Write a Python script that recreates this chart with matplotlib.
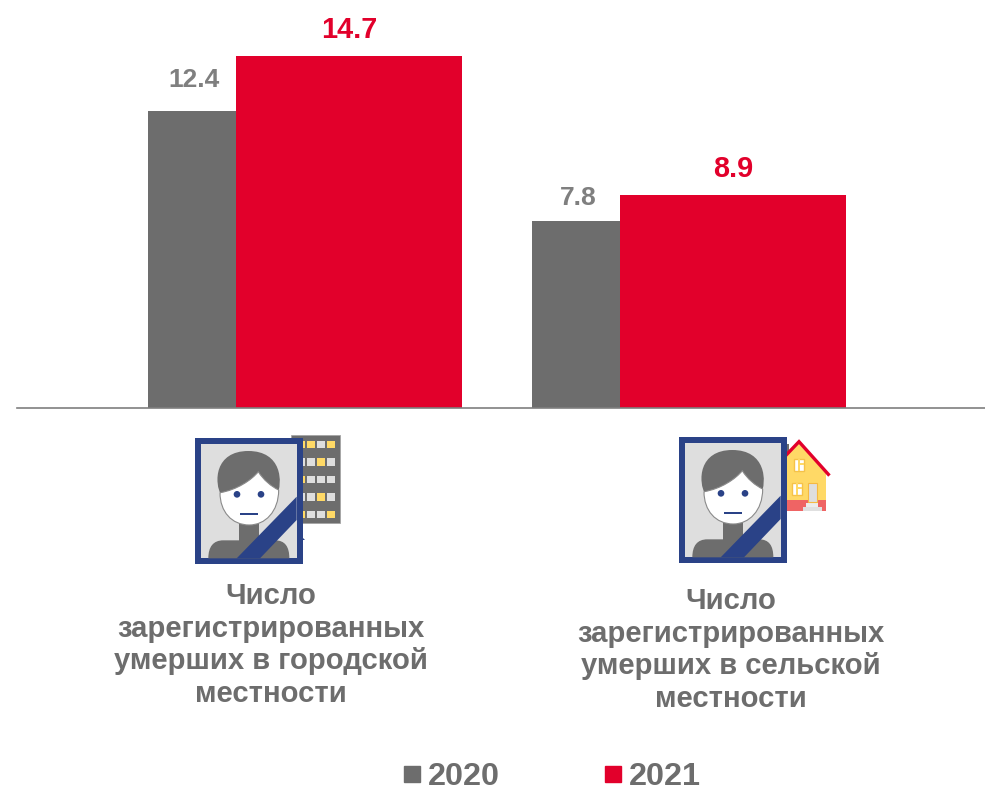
# Deaths in urban / rural areas, 2020 vs 2021
import matplotlib
matplotlib.use('Agg')
import matplotlib.pyplot as plt
from matplotlib.lines import Line2D
from matplotlib.patches import Circle, PathPatch, Polygon, Rectangle
from matplotlib.path import Path

plt.rcParams['font.family'] = ['Liberation Sans', 'DejaVu Sans']

categories = ['Число\nзарегистрированных\nумерших в городской\nместности',
              'Число\nзарегистрированных\nумерших в сельской\nместности']
years = ['2020', '2021']
values_2020 = [12.4, 7.8]
values_2021 = [14.7, 8.9]

GREY = '#6d6d6d'
RED = '#e2002b'
BLUE = '#2a4287'
YEL = '#ffd966'
LGREY = '#dedede'

W, H = 985, 787
BASE = 408

fig = plt.figure(figsize=(W / 100, H / 100), dpi=100)

# bars: x axis in pixels, y axis in data units
ax = fig.add_axes([0, 1 - BASE / H, 1, BASE / H])
ax.set_xlim(0, W)
ax.set_ylim(0, BASE / 23.95)
ax.patch.set_alpha(0)
left_2020 = [148, 532]
left_2021 = [236, 620]
ax.bar(left_2020, values_2020, width=88, align='edge', color=GREY, label=years[0])
ax.bar(left_2021, values_2021, width=226, align='edge', color=RED, label=years[1])
for x, v, dy in zip(left_2020, values_2020, [19, 11]):
    ax.annotate(f'{v}', (x + 46, v), xytext=(0, dy), textcoords='offset pixels', ha='center', va='bottom',
                color='#7f7f7f', fontsize=19, fontweight='bold')
for x, v, dy in zip(left_2021, values_2021, [12, 12]):
    ax.annotate(f'{v}', (x + 113, v), xytext=(0, dy), textcoords='offset pixels', ha='center', va='bottom',
                color=RED, fontsize=20.8, fontweight='bold')
ax.set_xticks([])
ax.set_yticks([])
for s in ['top', 'left', 'right']:
    ax.spines[s].set_visible(False)
ax.spines['bottom'].set_bounds(17, W)
ax.spines['bottom'].set_color('#7f7f7f')
ax.spines['bottom'].set_linewidth(1.2)

# everything below the baseline is placed in pixel coordinates
ov = fig.add_axes([0, 0, 1, 1], zorder=3)
ov.set_xlim(0, W)
ov.set_ylim(H, 0)
ov.axis('off')


def curve(P, pts, **kw):
    # first point is a moveto, then triples of cubic bezier points
    verts = [P(*p) for p in pts]
    codes = [Path.MOVETO] + [Path.CURVE4] * (len(verts) - 1)
    return PathPatch(Path(verts, codes), **kw)


def portrait(ox, oy):
    # coordinates taken from a 3x crop, hence the /3
    P = lambda x, y: (ox + x / 3, oy + y / 3)
    L = lambda x: x / 3
    ov.add_patch(Rectangle(P(45, 38), L(323), L(380), fc=BLUE, ec='none', zorder=5))
    ov.add_patch(Rectangle(P(64, 56), L(286), L(344), fc=LGREY, ec='none', zorder=6))
    # shoulders and neck
    ov.add_patch(curve(P, [(85, 400), (85, 365), (100, 346), (130, 346), (180, 346), (240, 346), (285, 346),
                           (315, 346), (328, 365), (328, 400), (280, 400), (130, 400), (85, 400)],
                       fc=GREY, ec='none', zorder=7))
    ov.add_patch(Rectangle(P(178, 290), L(60), L(60), fc=GREY, ec='none', zorder=7))
    # hair then face
    ov.add_patch(curve(P, [(125, 215), (100, 170), (105, 78), (205, 78), (305, 78), (310, 170), (290, 215),
                           (240, 220), (170, 220), (125, 215)], fc=GREY, ec='none', zorder=8))
    ov.add_patch(curve(P, [(120, 203), (170, 195), (215, 165), (235, 140), (250, 165), (275, 185), (296, 195),
                           (296, 260), (255, 300), (208, 300), (155, 300), (120, 260), (120, 203)],
                       fc='white', ec='#8a8a8a', lw=0.8, zorder=9))
    ov.add_patch(Circle(P(171, 208), L(10), fc=BLUE, ec='none', zorder=10))
    ov.add_patch(Circle(P(243, 208), L(10), fc=BLUE, ec='none', zorder=10))
    ov.add_patch(Rectangle(P(180, 263), L(53), L(6), fc=BLUE, ec='none', zorder=10))
    # ribbon
    ov.add_patch(Polygon([P(350, 215), P(350, 285), P(240, 400), P(170, 400)], fc=BLUE, ec='none', zorder=11))


def building(ox, oy):
    P = lambda x, y: (ox + x / 3, oy + y / 3)
    L = lambda x: x / 3
    ov.add_patch(Rectangle(P(333, 30), L(146), L(265), fc=GREY, ec='#a5a5a5', lw=0.6, zorder=3))
    lit = [[1, 1, 0, 1], [0, 0, 1, 0], [1, 0, 0, 0], [0, 0, 1, 0], [1, 0, 0, 1]]
    for r, row in enumerate(lit):
        for c, on in enumerate(row):
            ov.add_patch(Rectangle(P(351 + c * 30, 47 + r * 52.5), L(23), L(23), fc=YEL if on else LGREY, ec='none',
                                   zorder=4))
    ov.add_patch(Polygon([P(350, 320), P(375, 345), P(350, 345)], fc=BLUE, ec='none', zorder=4))


def house(ox, oy):
    P = lambda x, y: (ox + x / 3, oy + y / 3)
    L = lambda x: x / 3
    ov.add_patch(Rectangle(P(340, 58), L(18), L(40), fc=GREY, ec='none', zorder=2))
    ov.add_patch(Polygon([P(340, 102), P(387, 55), P(468, 145), P(468, 226), P(340, 226)], fc=YEL, ec='none', zorder=3))
    ov.add_patch(Rectangle(P(340, 226), L(128), L(32), fc='#ef6464', ec='none', zorder=3))
    ov.add_patch(Rectangle(P(408, 234), L(37), L(12), fc='#ececec', ec='none', zorder=4))
    ov.add_patch(Rectangle(P(398, 246), L(58), L(12), fc='#e0e0e0', ec='none', zorder=4))
    ov.add_patch(Rectangle(P(414, 174), L(28), L(58), fc=LGREY, ec='#f5b942', lw=0.8, zorder=4))
    for wx, wy in [(373, 101), (367, 173)]:
        ov.add_patch(Rectangle(P(wx, wy), L(29), L(37), fc='white', ec='#f5c24a', lw=1, zorder=4))
        ov.add_patch(Rectangle(P(wx + 12, wy), L(5), L(37), fc=YEL, ec='none', zorder=4))
        ov.add_patch(Rectangle(P(wx + 17, wy + 14), L(12), L(4), fc=YEL, ec='none', zorder=4))
    ov.plot(*zip(P(342, 97), P(387, 50), P(475, 148)), color=RED, lw=2.4, solid_joinstyle='miter', zorder=4)


building(180, 425)
portrait(180, 425)
house(670, 425)
portrait(664, 424)

# category captions
label_pos = [(271, 645), (731, 650)]
for (x, y), lab in zip(label_pos, categories):
    ov.text(x, y, lab, ha='center', va='center', color=GREY, fontsize=21.1, fontweight='bold', linespacing=1.2)

# legend
handles = [Line2D([], [], ls='none', marker='s', ms=11, color=GREY), Line2D([], [], ls='none', marker='s', ms=11, color=RED)]
fig.legend(handles, years, ncols=2, loc='center', bbox_to_anchor=(551.5 / W, 1 - 777 / H), frameon=False,
           prop={'size': 23.3, 'weight': 'bold'}, labelcolor=GREY, handlelength=0.6, handletextpad=0.2,
           columnspacing=3.2, borderpad=0)

fig.savefig('out.png', dpi=100)
